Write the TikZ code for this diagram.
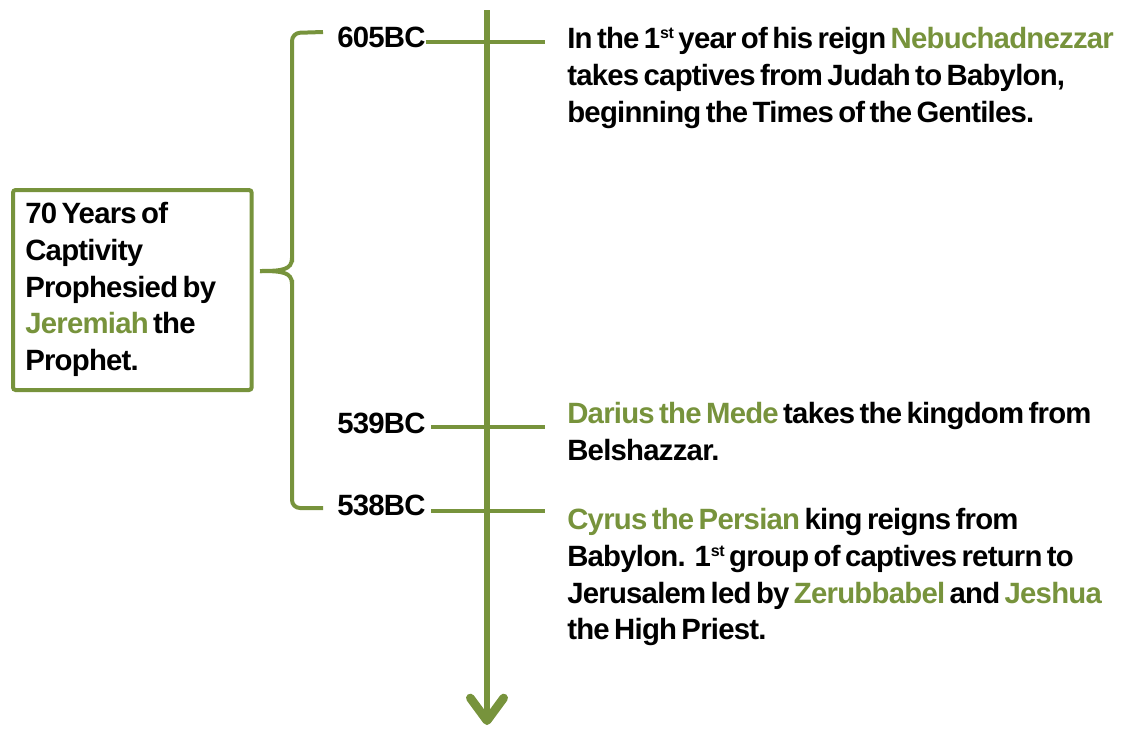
\documentclass[tikz,border=0pt]{standalone}
\usepackage{fontspec}
\setmainfont{Liberation Sans}[LetterSpace=-2.6, WordSpace=0.6]
\usetikzlibrary{arrows.meta}
\definecolor{olive}{RGB}{119,147,60}
\newcommand{\hl}[1]{\textcolor{olive}{#1}}
\newcommand{\ord}[1]{\raisebox{0.33em}{\fontsize{12}{12}\selectfont #1}}
\begin{document}
\begin{tikzpicture}[x=0.75pt,y=-0.75pt,
  txt/.style={font=\fontsize{22}{27.6}\selectfont\bfseries, align=left, inner sep=0pt, anchor=north west},
  date/.style={font=\fontsize{22}{27.6}\selectfont\bfseries, inner sep=0pt, anchor=base west},
  link/.style={draw=olive, line width=3pt},
  brace/.style={draw=olive, line width=3pt, rounded corners=6pt},
  timeline/.style={draw=olive, line width=4.5pt, -{Straight Barb[length=17pt,width=25pt,line width=6.5pt,round]}},
  framebox/.style={draw=olive, line width=3pt, rounded corners=2pt, inner sep=0pt, anchor=north west,
    minimum width=179pt, minimum height=150pt}]
\useasboundingbox (0,0) rectangle (1124,729);
% timeline
\coordinate (top) at (487,10);
\coordinate (bottom) at (487,725);
\draw[timeline] (top) -- (bottom);
% box
\node[framebox] (box) at (11,188) {};
\node[txt] (boxtext) at (25,202) {70 Years of\\Captivity\\Prophesied by\\\hl{Jeremiah} the\\Prophet.};
% brace
\coordinate (btop) at (323,32);
\coordinate (bbot) at (323,508);
\coordinate (btip) at (260,271);
\draw[brace] (btop) -- (292,33) -- (292,262);
\draw[draw=olive, line width=3pt] (292,258) .. controls (292,270) and (282,271) .. (btip);
\draw[draw=olive, line width=3pt] (btip) .. controls (282,271) and (292,272) .. (292,284);
\draw[brace] (292,280) -- (292,508) -- (bbot);
% dates
\node[date] (d605) at (337,47) {605BC};
\node[date] (d539) at (337,433) {539BC};
\node[date] (d538) at (337,515) {538BC};
\coordinate (r605) at (545,42);
\coordinate (r539) at (545,427);
\coordinate (r538) at (545,511);
\draw[link] (d605.east |- r605) -- (r605);
\draw[link] ([xshift=4pt]d539.east |- r539) -- (r539);
\draw[link] ([xshift=4pt]d538.east |- r538) -- (r538);
% events
\node[txt] (e1) at (567,27) {In the 1\ord{st} year of his reign \hl{Nebuchadnezzar}\\takes captives from Judah to Babylon,\\beginning the Times of the Gentiles.};
\node[txt] (e2) at (567,402) {\hl{Darius the Mede} takes the kingdom from\\Belshazzar.};
\node[txt] (e3) at (567,508) {\hl{Cyrus the Persian} king reigns from\\Babylon.\ \ 1\ord{st} group of captives return to\\Jerusalem led by \hl{Zerubbabel} and \hl{Jeshua}\\the High Priest.};
\end{tikzpicture}
\end{document}
